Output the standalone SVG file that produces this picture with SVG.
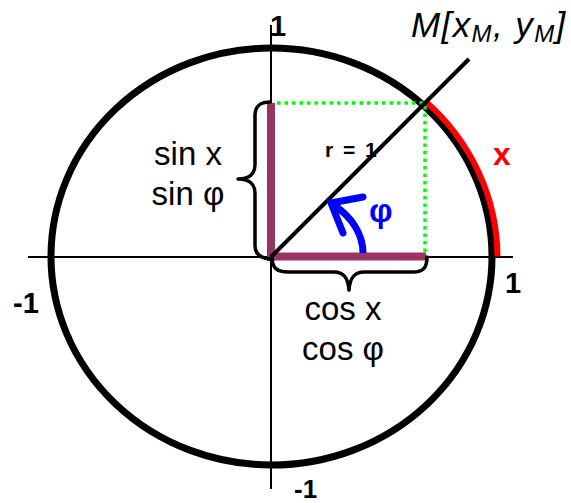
<svg xmlns="http://www.w3.org/2000/svg" width="571" height="503" viewBox="0 0 571 503">
<style>
text{font-family:"Liberation Sans",Arial,sans-serif;fill:#000}
.lbl{font-size:33px}
.num{font-size:29px;font-weight:bold}
.axis{stroke:#000;stroke-width:2;fill:none}
.brace{stroke:#000;stroke-width:3.5;fill:none;stroke-linecap:round;stroke-linejoin:round}
.dot{stroke:#00ff00;stroke-width:3.5;stroke-dasharray:3.5 4;fill:none}
.purple{stroke:#993366;stroke-width:8;fill:none}
</style>
<rect width="571" height="503" fill="#fff"/>
<g id="connectors">
<line class="axis" x1="28" y1="257" x2="513" y2="257"/>
<line class="axis" x1="271" y1="25" x2="271" y2="489"/>
</g>
<g id="circle">
<ellipse cx="271.5" cy="256.5" rx="220.5" ry="208.5" fill="none" stroke="#000" stroke-width="7"/>
<path d="M 425 101 A 226 213 0 0 1 497.5 256.5" fill="none" stroke="#ff0000" stroke-width="6"/>
</g>
<g id="projections">
<line class="dot" x1="277" y1="103" x2="423" y2="103"/>
<line class="dot" x1="425" y1="106" x2="425" y2="253"/>
<line class="purple" x1="271" y1="103" x2="271" y2="261"/>
<line class="purple" x1="267" y1="256.5" x2="426" y2="256.5"/>
</g>
<g id="radius">
<line x1="271" y1="257" x2="469" y2="59" stroke="#000" stroke-width="4"/>
</g>
<g id="braces">
<path class="brace" d="M 270 102 C 260 102 255 106 255 116 L 255 165 C 255 174 249 179 238 179 C 249 179 255 184 255 193 L 255 246 C 255 254 261 258 270 259"/>
<path class="brace" d="M 272 257 C 272 268 277 272 288 272 L 334 272 C 343 272 348 277 349 290 C 350 277 355 272 364 272 L 413 272 C 423 272 427 268 427 257"/>
</g>
<g id="angle">
<path d="M 363 253 C 363 235 352 216 332 204" fill="none" stroke="#0000ff" stroke-width="7"/>
<polyline points="363,197 331,203 343,233" fill="none" stroke="#0000ff" stroke-width="7" stroke-linecap="round" stroke-linejoin="miter"/>
<text x="369" y="221.5" style="font-size:33px;font-weight:bold;fill:#0000ff">φ</text>
</g>
<g id="labels">
<text class="num" x="270" y="36">1</text>
<text x="411" y="37" style="font-size:35px;font-style:italic;letter-spacing:1.4px">M[x<tspan style="font-size:24px" dy="5">M</tspan><tspan dy="-5">, y</tspan><tspan style="font-size:24px" dy="5">M</tspan><tspan dy="-5">]</tspan></text>
<text x="325" y="157" style="font-size:21px;font-weight:bold;word-spacing:4px">r = 1</text>
<text x="493" y="165" style="font-size:32px;font-weight:bold;fill:#ff0000">x</text>
<text class="num" x="505" y="293">1</text>
<text class="num" x="13" y="313">-1</text>
<text class="num" x="294" y="498" style="font-size:26px">-1</text>
<text class="lbl" x="188" y="165" text-anchor="middle">sin x</text>
<text class="lbl" x="188" y="205" text-anchor="middle">sin φ</text>
<text class="lbl" x="343" y="320" text-anchor="middle">cos x</text>
<text class="lbl" x="343" y="360" text-anchor="middle">cos φ</text>
</g>
</svg>
